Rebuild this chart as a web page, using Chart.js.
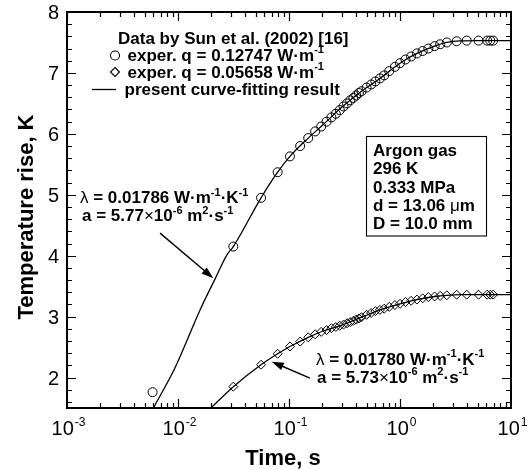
<!DOCTYPE html>
<html><head><meta charset="utf-8">
<script src="https://cdn.jsdelivr.net/npm/chart.js@4.4.1/dist/chart.umd.min.js"></script>
<style>html,body{margin:0;padding:0;background:#fff}#wrap{width:528px;height:470px;position:relative}</style>
</head><body><div id="wrap"><canvas id="c" width="528" height="470"></canvas></div>
<script>
// ---- data ----
const timesQ1 = [0.0059,0.0315,0.056,0.079,0.102,0.126,0.149,0.172,0.195,0.218,0.241,0.264,0.287,0.31,0.333,0.356,0.38,0.403,0.426,0.45,0.5,0.55,0.6,0.66,0.72,0.8,0.9,1.0,1.12,1.26,1.42,1.6,1.8,2.05,2.3,2.64,3.24,3.99,5.1,6.1,6.5,6.9];
const tempQ1  = [1.76,4.15,4.95,5.37,5.63,5.80,5.93,6.04,6.12,6.20,6.27,6.33,6.39,6.45,6.50,6.55,6.59,6.63,6.67,6.70,6.76,6.81,6.86,6.91,6.96,7.03,7.10,7.16,7.22,7.27,7.32,7.36,7.40,7.44,7.47,7.50,7.52,7.53,7.53,7.53,7.53,7.53];
const timesQ2 = [0.0315,0.056,0.079,0.102,0.126,0.149,0.172,0.195,0.218,0.241,0.264,0.287,0.31,0.333,0.356,0.38,0.403,0.426,0.45,0.5,0.55,0.6,0.66,0.72,0.8,0.9,1.0,1.12,1.26,1.42,1.6,1.8,2.05,2.3,2.64,3.24,3.99,5.1,6.1,6.5,6.9];
const tempQ2  = [1.85,2.21,2.39,2.51,2.59,2.66,2.71,2.75,2.78,2.81,2.83,2.85,2.87,2.89,2.91,2.93,2.95,2.97,2.99,3.03,3.06,3.09,3.11,3.13,3.16,3.19,3.21,3.24,3.26,3.28,3.30,3.32,3.33,3.34,3.35,3.36,3.36,3.36,3.36,3.36,3.36];
const fitTimesQ1 = [0.0060,0.0094,0.0158,0.0216,0.0275,0.0315,0.056,0.079,0.102,0.149,0.2,0.3,0.45,0.66,1.0,1.42,2.05,2.64,3.5,5,10];
const fitTempQ1  = [1.50,2.16,3.11,3.62,4.01,4.15,4.95,5.37,5.63,5.93,6.14,6.44,6.70,6.91,7.16,7.32,7.44,7.50,7.525,7.53,7.53];
const fitTimesQ2 = [0.0198,0.0315,0.056,0.079,0.102,0.149,0.2,0.3,0.45,0.66,1.0,1.42,2.05,2.64,3.5,5,10];
const fitTempQ2  = [1.50,1.85,2.21,2.39,2.51,2.66,2.76,2.86,2.99,3.11,3.21,3.28,3.33,3.35,3.36,3.36,3.36];
const xTickValues = [0.001,0.01,0.1,1,10];
const xTickExponents = ['-3','-2','-1','0','1'];
const yTickValues = [2,3,4,5,6,7,8];
const yTickLabels = ['2','3','4','5','6','7','8'];
const xTitle = 'Time, s';
const yTitle = 'Temperature rise, K';

const FF = '"Liberation Sans", Arial, Helvetica, sans-serif';
const TS = 17;
function segFont(k, size){
  if (k === 's') return 'bold ' + Math.round(size*0.62) + 'px ' + FF;
  if (k === 'r') return size + 'px ' + FF;
  return 'bold ' + size + 'px ' + FF;
}
function drawRich(ctx, x, y, segs, size, align){
  let w = 0; const ws = [];
  segs.forEach(([t,k]) => { ctx.font = segFont(k,size); const m = ctx.measureText(t).width; ws.push(m); w += m; });
  let cx = align === 'center' ? x - w/2 : (align === 'right' ? x - w : x);
  ctx.textAlign = 'left'; ctx.textBaseline = 'alphabetic';
  segs.forEach(([t,k],i) => { ctx.font = segFont(k,size); ctx.fillText(t, cx, k === 's' ? y - size*0.42 : y); cx += ws[i]; });
}
function arrow(ctx, x1, y1, x2, y2){
  const a = Math.atan2(y2-y1, x2-x1), L = 12, W = 4;
  ctx.beginPath(); ctx.moveTo(x1,y1); ctx.lineTo(x2 - L*0.8*Math.cos(a), y2 - L*0.8*Math.sin(a));
  ctx.lineWidth = 1.4; ctx.stroke();
  ctx.beginPath(); ctx.moveTo(x2,y2);
  ctx.lineTo(x2 - L*Math.cos(a) + W*Math.sin(a), y2 - L*Math.sin(a) - W*Math.cos(a));
  ctx.lineTo(x2 - L*Math.cos(a) - W*Math.sin(a), y2 - L*Math.sin(a) + W*Math.cos(a));
  ctx.closePath(); ctx.fill();
}

const arrows = [
  {tail:{x:0.00689, y:4.37}, tip:{x:0.0208, y:3.63}},
  {tail:{x:0.1545, y:1.99}, tip:{x:0.0698, y:2.26}}
];

const framePlugin = {
  id: 'frame',
  afterDraw(chart){
    const ctx = chart.ctx, xs = chart.scales.x, ys = chart.scales.y, A = chart.chartArea;
    ctx.save();
    ctx.fillStyle = '#000'; ctx.strokeStyle = '#000';
    // ticks (inward, all four sides)
    ctx.lineWidth = 1.2;
    ctx.beginPath();
    for (let d = -3; d < 1; d++) {
      for (let m = 1; m <= 9; m++) {
        const v = m * Math.pow(10, d);
        const px = Math.round(xs.getPixelForValue(v)) + 0.5;
        const len = m === 1 ? 9 : 5;
        ctx.moveTo(px, A.bottom); ctx.lineTo(px, A.bottom - len);
        ctx.moveTo(px, A.top); ctx.lineTo(px, A.top + len);
      }
    }
    for (let i = 8; i <= 40; i++) {
      const v = i / 5;
      const py = Math.round(ys.getPixelForValue(v)) + 0.5;
      const len = (i % 5 === 0) ? 9 : 5;
      ctx.moveTo(A.left, py); ctx.lineTo(A.left + len, py);
      ctx.moveTo(A.right, py); ctx.lineTo(A.right - len, py);
    }
    ctx.stroke();
    // frame
    ctx.lineWidth = 2;
    ctx.strokeRect(A.left, A.top, A.right - A.left, A.bottom - A.top);
    // x tick labels
    xTickValues.forEach((v,i) => {
      const px = xs.getPixelForValue(v);
      ctx.font = '20px ' + FF; const w1 = ctx.measureText('10').width;
      ctx.font = '12px ' + FF; const w2 = ctx.measureText(xTickExponents[i]).width;
      const x0 = px - (w1 + w2)/2 + 1;
      ctx.textAlign = 'left'; ctx.textBaseline = 'alphabetic';
      ctx.font = '20px ' + FF; ctx.fillText('10', x0, 435);
      ctx.font = '12px ' + FF; ctx.fillText(xTickExponents[i], x0 + w1 + 1, 426);
    });
    // y tick labels
    ctx.font = '20px ' + FF; ctx.textAlign = 'right'; ctx.textBaseline = 'alphabetic';
    yTickValues.forEach((v,i) => { ctx.fillText(yTickLabels[i], 59, ys.getPixelForValue(v) + 7); });
    // titles
    ctx.font = 'bold 22px ' + FF; ctx.textAlign = 'center';
    ctx.fillText(xTitle, 283, 465);
    ctx.save(); ctx.translate(33, (A.top + A.bottom)/2 + 7); ctx.rotate(-Math.PI/2);
    ctx.fillText(yTitle, 0, 0); ctx.restore();
    // legend
    drawRich(ctx, 118, 43.5, [['Data by Sun et al. (2002) [16]','b']], TS, 'left');
    ctx.lineWidth = 1.1;
    ctx.beginPath(); ctx.arc(115, 55.5, 4.5, 0, Math.PI*2); ctx.stroke();
    drawRich(ctx, 127.5, 60.5, [['exper. q = 0.12747 W·m','b'],['-1','s']], TS, 'left');
    ctx.beginPath(); ctx.moveTo(115, 67.5); ctx.lineTo(119.5, 72); ctx.lineTo(115, 76.5); ctx.lineTo(110.5, 72); ctx.closePath(); ctx.stroke();
    drawRich(ctx, 127.5, 77.5, [['exper. q = 0.05658 W·m','b'],['-1','s']], TS, 'left');
    ctx.lineWidth = 1.3;
    ctx.beginPath(); ctx.moveTo(92, 89.5); ctx.lineTo(116, 89.5); ctx.stroke();
    drawRich(ctx, 124.5, 94.5, [['present curve-fitting result','b']], TS, 'left');
    // info box
    ctx.lineWidth = 1.1;
    ctx.strokeRect(366.5, 136.5, 120, 99.5);
    drawRich(ctx, 373, 155.5, [['Argon gas','b']], TS, 'left');
    drawRich(ctx, 373, 174, [['296 K','b']], TS, 'left');
    drawRich(ctx, 373, 192.5, [['0.333 MPa','b']], TS, 'left');
    drawRich(ctx, 373, 211, [['d = 13.06 ','b'],['μ','r'],['m','b']], TS, 'left');
    drawRich(ctx, 373, 229, [['D = 10.0 mm','b']], TS, 'left');
    // annotations
    drawRich(ctx, 80, 203, [['λ','r'],[' = 0.01786 W·m','b'],['-1','s'],['·K','b'],['-1','s']], TS, 'left');
    drawRich(ctx, 82, 221, [['a = 5.77','b'],['×','r'],['10','b'],['-6','s'],[' m','b'],['2','s'],['·s','b'],['-1','s']], TS, 'left');
    drawRich(ctx, 316, 364.5, [['λ','r'],[' = 0.01780 W·m','b'],['-1','s'],['·K','b'],['-1','s']], TS, 'left');
    drawRich(ctx, 317, 382.5, [['a = 5.73','b'],['×','r'],['10','b'],['-6','s'],[' m','b'],['2','s'],['·s','b'],['-1','s']], TS, 'left');
    arrows.forEach(a => arrow(ctx, xs.getPixelForValue(a.tail.x), ys.getPixelForValue(a.tail.y), xs.getPixelForValue(a.tip.x), ys.getPixelForValue(a.tip.y)));
    ctx.restore();
  }
};

const pts = (xs, ys) => xs.map((x,i) => ({x, y: ys[i]}));
new Chart(document.getElementById('c'), {
  type: 'line',
  data: { datasets: [
    { label: 'fit q=0.12747', data: pts(fitTimesQ1, fitTempQ1), borderColor: '#000', borderWidth: 1.3, pointRadius: 0, fill: false, cubicInterpolationMode: 'monotone' },
    { label: 'fit q=0.05658', data: pts(fitTimesQ2, fitTempQ2), borderColor: '#000', borderWidth: 1.3, pointRadius: 0, fill: false, cubicInterpolationMode: 'monotone' },
    { label: 'exper. q = 0.12747', data: pts(timesQ1, tempQ1), showLine: false, pointStyle: 'circle', pointRadius: 4.5, pointBorderWidth: 1, pointBorderColor: '#000', pointBackgroundColor: 'rgba(0,0,0,0)' },
    { label: 'exper. q = 0.05658', data: pts(timesQ2, tempQ2), showLine: false, pointStyle: 'rectRot', pointRadius: 4.5, pointBorderWidth: 1, pointBorderColor: '#000', pointBackgroundColor: 'rgba(0,0,0,0)' }
  ]},
  options: {
    responsive: false, animation: false, devicePixelRatio: 1,
    layout: { padding: { left: 67, right: 17, top: 12, bottom: 62 } },
    scales: {
      x: { type: 'logarithmic', min: 0.001, max: 10, display: false },
      y: { type: 'linear', min: 1.5, max: 8, display: false }
    },
    plugins: { legend: { display: false }, tooltip: { enabled: false } }
  },
  plugins: [framePlugin]
});
</script></body></html>
